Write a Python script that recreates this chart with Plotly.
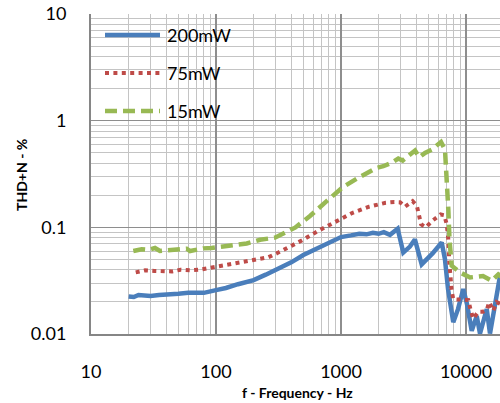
import plotly.graph_objects as go

# ---------------- data ----------------
series_names = ["200mW", "75mW", "15mW"]

freq_200 = [20, 22, 24, 27, 30, 35, 40, 50, 60, 70, 80, 100, 120, 150, 200, 250, 300,
            400, 500, 700, 1000, 1200, 1400, 1600, 1800, 2000, 2200, 2466, 2840, 3150,
            3560, 3900, 4420, 5400, 6390, 6790, 7180, 7910, 8630, 9510, 10190, 11110,
            12180, 12940, 13680, 14650, 15560, 16750, 17750, 18710, 20000]
thd_200 = [0.0225, 0.0222, 0.0232, 0.0228, 0.0227, 0.0232, 0.0233, 0.0238, 0.0243, 0.0245,
           0.0243, 0.0258, 0.027, 0.0293, 0.032, 0.036, 0.040, 0.047, 0.055, 0.067, 0.081,
           0.084, 0.087, 0.086, 0.089, 0.087, 0.090, 0.085, 0.097, 0.058, 0.066, 0.077,
           0.045, 0.057, 0.072, 0.050, 0.0264, 0.0129, 0.0171, 0.0264, 0.019, 0.0107,
           0.0148, 0.0101, 0.0125, 0.0171, 0.0101, 0.0171, 0.0264, 0.035, 0.030]

freq_75 = [22.8, 27, 32, 38, 44.5, 52, 62, 73.5, 87, 100, 118, 139, 193, 263, 315, 493,
           670, 912, 1240, 1676, 2277, 2670, 2965, 3250, 3740, 4040, 4230, 4370, 4760,
           5470, 6270, 6700, 7010, 7220, 7350, 7540, 7680, 7910, 9070, 10440, 10890,
           11430, 12530, 13680, 14650, 15340, 16520, 17600, 19000]
thd_75 = [0.0378, 0.0395, 0.039, 0.0388, 0.0386, 0.040, 0.0395, 0.040, 0.0415, 0.042,
          0.0435, 0.045, 0.0487, 0.0525, 0.058, 0.076, 0.0937, 0.113, 0.137, 0.156, 0.170,
          0.173, 0.172, 0.156, 0.176, 0.16, 0.132, 0.107, 0.100, 0.117, 0.132, 0.130,
          0.107, 0.077, 0.047, 0.0315, 0.0254, 0.0212, 0.0212, 0.0208, 0.0168, 0.0139,
          0.0162, 0.0162, 0.0168, 0.0199, 0.0165, 0.0199, 0.019]

freq_15 = [21.8, 25.4, 29, 32.5, 35.6, 40, 45.6, 52, 58.3, 62, 70, 79, 92, 100, 114, 151,
           176, 225, 296, 429, 565, 768, 1044, 1420, 1930, 2180, 2545, 2873, 3116, 3354,
           3910, 4230, 4700, 5320, 6310, 6790, 7010, 7220, 7380, 7680, 8950, 10770, 13680,
           16040, 18130, 19500]
thd_15 = [0.060, 0.0623, 0.0615, 0.064, 0.060, 0.0605, 0.061, 0.061, 0.063, 0.060, 0.062,
          0.0635, 0.064, 0.0645, 0.066, 0.069, 0.0705, 0.0765, 0.080, 0.0993, 0.1277, 0.176,
          0.24, 0.298, 0.361, 0.374, 0.403, 0.442, 0.423, 0.454, 0.525, 0.454, 0.499, 0.536,
          0.632, 0.535, 0.30, 0.147, 0.077, 0.0437, 0.0378, 0.0339, 0.035, 0.0315, 0.0362,
          0.034]

x_tick_vals = [10, 100, 1000, 10000]
x_tick_text = ["10", "100", "1000", "10000"]
y_tick_vals = [0.01, 0.1, 1, 10]
y_tick_text = ["0.01", "0.1", "1", "10"]

x_title = "f - Frequency - Hz"
y_title = "THD+N - %"

# ---------------- styling ----------------
colors = ["#4A7EBB", "#BE4B48", "#98B954"]
widths = [4.5, 4, 4.5]
dashes = ["solid", "4px,4.4px", "12px,6px"]
FONT = "Lato, 'Open Sans', sans-serif"

W, H = 500, 403
ML, MR, MT, MB = 91, 0, 14, 69
PW, PH = W - ML - MR, H - MT - MB

fig = go.Figure()
for name, fx, fy, c, w, d in zip(series_names,
                                 [freq_200, freq_75, freq_15],
                                 [thd_200, thd_75, thd_15],
                                 colors, widths, dashes):
    fig.add_trace(go.Scatter(x=fx, y=fy, mode="lines", name=name,
                             line=dict(color=c, width=w, dash=d),
                             showlegend=False, cliponaxis=True))

minor_x = [m * 10 ** e for e in range(1, 5) for m in range(2, 10)]
minor_y = [m * 10 ** e for e in range(-2, 1) for m in range(2, 10)]

major_grid = "#8E8E8E"
minor_grid = "#C4C4C4"

fig.update_xaxes(type="log", range=[1, 1 + PW / 125.0],
                 tickvals=x_tick_vals, ticktext=x_tick_text,
                 showgrid=True, gridcolor=major_grid, gridwidth=1.3,
                 minor=dict(tickvals=minor_x, showgrid=True, gridcolor=minor_grid,
                            gridwidth=1, ticks=""),
                 showline=True, linecolor="#868686", linewidth=2,
                 ticks="outside", ticklen=20, tickcolor="rgba(0,0,0,0)",
                 tickfont=dict(family=FONT, size=18, color="#000000"),
                 zeroline=False)
fig.update_yaxes(type="log", range=[-2, 1],
                 tickvals=y_tick_vals, ticktext=y_tick_text,
                 showgrid=True, gridcolor=major_grid, gridwidth=1.3,
                 minor=dict(tickvals=minor_y, showgrid=True, gridcolor=minor_grid,
                            gridwidth=1, ticks=""),
                 showline=True, linecolor="#868686", linewidth=2,
                 ticks="outside", ticklen=19, tickcolor="rgba(0,0,0,0)",
                 tickfont=dict(family=FONT, size=18, color="#000000"),
                 zeroline=False)

# custom legend (long line samples like the original)
def px_to_paper_x(px):
    return (px - ML) / PW

def px_to_paper_y(py):
    return (H - MB - py) / PH

legend_rows_px = [35, 73, 111]
for name, c, w, d, ry in zip(series_names, colors, widths, dashes, legend_rows_px):
    fig.add_shape(type="line", xref="paper", yref="paper",
                  x0=px_to_paper_x(105), x1=px_to_paper_x(160),
                  y0=px_to_paper_y(ry), y1=px_to_paper_y(ry),
                  line=dict(color=c, width=w, dash=d))
    fig.add_annotation(text=name, xref="paper", yref="paper",
                       x=px_to_paper_x(165), y=px_to_paper_y(ry),
                       xanchor="left", yanchor="middle", showarrow=False,
                       font=dict(family=FONT, size=18, color="#000000"))

fig.add_annotation(text="<b>%s</b>" % x_title, xref="paper", yref="paper",
                   x=px_to_paper_x(297), y=px_to_paper_y(392),
                   xanchor="center", yanchor="middle", showarrow=False,
                   font=dict(family=FONT, size=14, color="#000000"))
fig.add_annotation(text="<b>%s</b>" % y_title, xref="paper", yref="paper",
                   x=px_to_paper_x(21), y=px_to_paper_y(175), textangle=-90,
                   xanchor="center", yanchor="middle", showarrow=False,
                   font=dict(family=FONT, size=14, color="#000000"))

fig.update_layout(width=W, height=H,
                  margin=dict(l=ML, r=MR, t=MT, b=MB, pad=0),
                  paper_bgcolor="white", plot_bgcolor="white",
                  showlegend=False)

fig.write_html("out.html",
               config={"displayModeBar": False, "staticPlot": True},
               post_script="document.body.style.margin='0';"
                           "document.body.style.overflow='hidden';")
